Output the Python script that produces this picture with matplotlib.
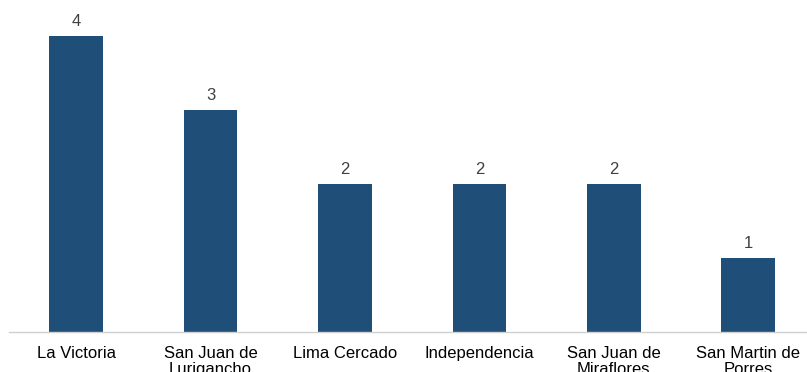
import matplotlib.pyplot as plt
import numpy as np

plt.rcParams['font.family'] = ['Liberation Sans', 'DejaVu Sans']

distritos = ['La Victoria', 'San Juan de\nLurigancho', 'Lima Cercado',
             'Independencia', 'San Juan de\nMiraflores', 'San Martin de\nPorres']
casos = [4, 3, 2, 2, 2, 1]

fig = plt.figure(figsize=(8.07, 3.72), dpi=100)
ax = fig.add_axes([9 / 807, 40 / 372, 806.4 / 807, 325.6 / 372])

x = np.arange(len(distritos))
bars = ax.bar(x, casos, width=0.4, color='#1F4E79')
for b, v in zip(bars, casos):
    ax.text(b.get_x() + b.get_width() / 2, v + 0.1, str(v),
            ha='center', va='bottom', fontsize=12, color='#404040')

ax.set_xlim(-0.5, 5.5)
ax.set_ylim(0, 4.4)
ax.set_xticks(x)
ax.set_xticklabels(distritos, fontsize=12, color='black', linespacing=1.08)
ax.tick_params(axis='x', length=0, pad=10)
ax.set_yticks([])
for s in ['top', 'right', 'left']:
    ax.spines[s].set_visible(False)
ax.spines['bottom'].set_color('#d0d0d0')
ax.spines['bottom'].set_linewidth(1)

fig.savefig('out.png', dpi=100)
